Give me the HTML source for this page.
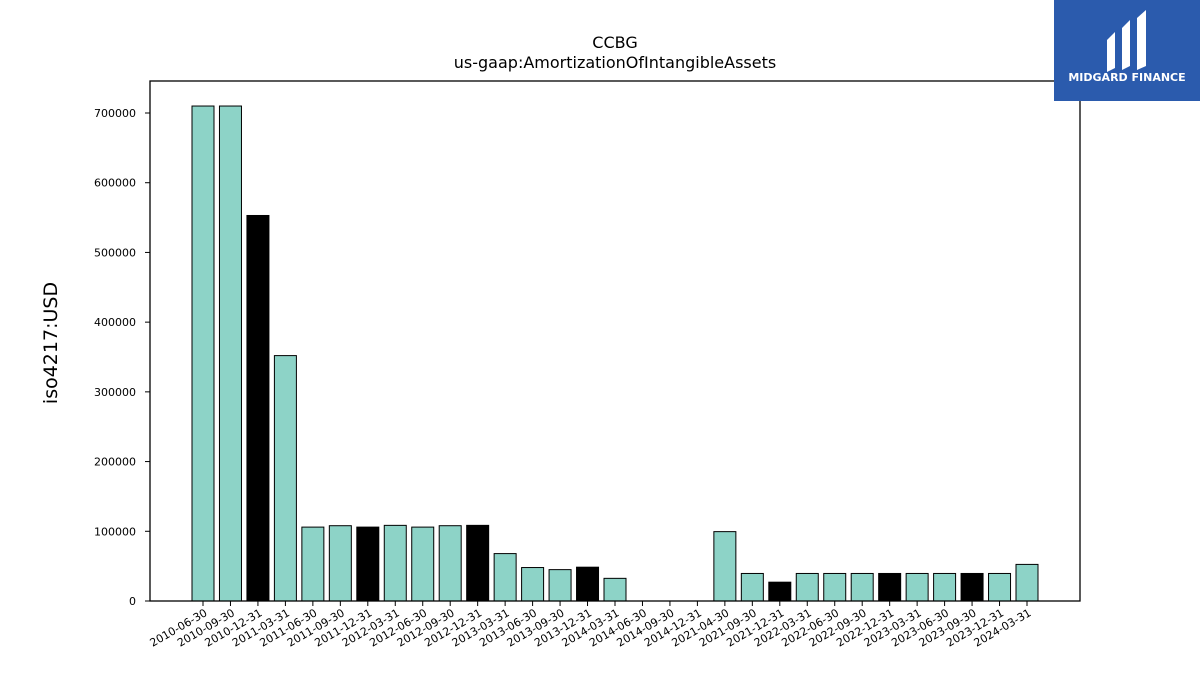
<!DOCTYPE html>
<html><head><meta charset="utf-8"><style>
body{margin:0;background:#fff;width:1200px;height:675px;overflow:hidden;font-family:"DejaVu Sans","Liberation Sans",sans-serif;}
</style></head><body>
<svg id="chart" width="1200" height="675" style="position:absolute;left:0;top:0;font-family:'DejaVu Sans','Liberation Sans',sans-serif">
<text x="615" y="48" text-anchor="middle" font-size="16">CCBG</text>
<text x="615" y="68" text-anchor="middle" font-size="16">us-gaap:AmortizationOfIntangibleAssets</text>
<text transform="translate(57,343) rotate(-90)" text-anchor="middle" font-size="19">iso4217:USD</text>
<g id="bars"></g><g id="yticks"></g><g id="xticks"></g>
<rect x="150" y="81" width="930" height="520" fill="none" stroke="#000" stroke-width="1.3"/>
<g>
<rect x="1054" y="0" width="146" height="101" fill="#2b5bad"/>
<path d="M1107 40 L1115 32 L1115 68 L1107 72 Z M1122 28 L1130 20 L1130 66 L1122 70 Z M1137 18 L1146 10 L1146 66 L1137 70 Z" fill="#fff"/>
<text x="1127" y="81" text-anchor="middle" font-size="11" font-weight="bold" fill="#fff">MIDGARD FINANCE</text>
</g>
</svg>
<script>
const categories=["2010-06-30","2010-09-30","2010-12-31","2011-03-31","2011-06-30","2011-09-30","2011-12-31","2012-03-31","2012-06-30","2012-09-30","2012-12-31","2013-03-31","2013-06-30","2013-09-30","2013-12-31","2014-03-31","2014-06-30","2014-09-30","2014-12-31","2021-04-30","2021-09-30","2021-12-31","2022-03-31","2022-06-30","2022-09-30","2022-12-31","2023-03-31","2023-06-30","2023-09-30","2023-12-31","2024-03-31"];
const values=[710000,710000,553000,352000,106000,108000,106000,108500,106000,108000,108500,68000,48000,45000,48500,32500,0,0,0,99500,39500,27000,39500,39500,39500,39500,39500,39500,39500,39500,52500];
const annual=[false,false,true,false,false,false,true,false,false,false,true,false,false,false,true,false,false,false,false,false,false,true,false,false,false,true,false,false,true,false,false];
const yTicks=[0,100000,200000,300000,400000,500000,600000,700000];
const NS="http://www.w3.org/2000/svg";
const x0=203,step=(1027-203)/30,bw=22;
const yS=v=>601-v*488/700000;
const xS=i=>x0+i*step;
const bars=document.getElementById('bars'),yt=document.getElementById('yticks'),xt=document.getElementById('xticks');
function mk(t,a){const e=document.createElementNS(NS,t);for(const k in a)e.setAttribute(k,a[k]);return e;}
values.forEach((v,i)=>{
const r=mk('rect',{x:xS(i)-bw/2,y:yS(v),width:bw,height:601-yS(v),fill:annual[i]?'#000':'#8dd3c7',stroke:'#000','stroke-width':1});


bars.appendChild(r);
const tk=mk('line',{x1:xS(i),x2:xS(i),y1:601,y2:606,stroke:'#000'});


xt.appendChild(tk);
const tx=mk('text',{transform:`translate(${xS(i)+5},${615}) rotate(-30)`,'text-anchor':'end','font-size':11});


tx.textContent=categories[i];xt.appendChild(tx);
});
yTicks.forEach(v=>{
const tk=mk('line',{x1:145,x2:150,y1:yS(v),y2:yS(v),stroke:'#000'});


yt.appendChild(tk);
const tx=mk('text',{x:136,y:yS(v)+4,'text-anchor':'end','font-size':11});


tx.textContent=v;yt.appendChild(tx);
});
</script>
</body></html>
